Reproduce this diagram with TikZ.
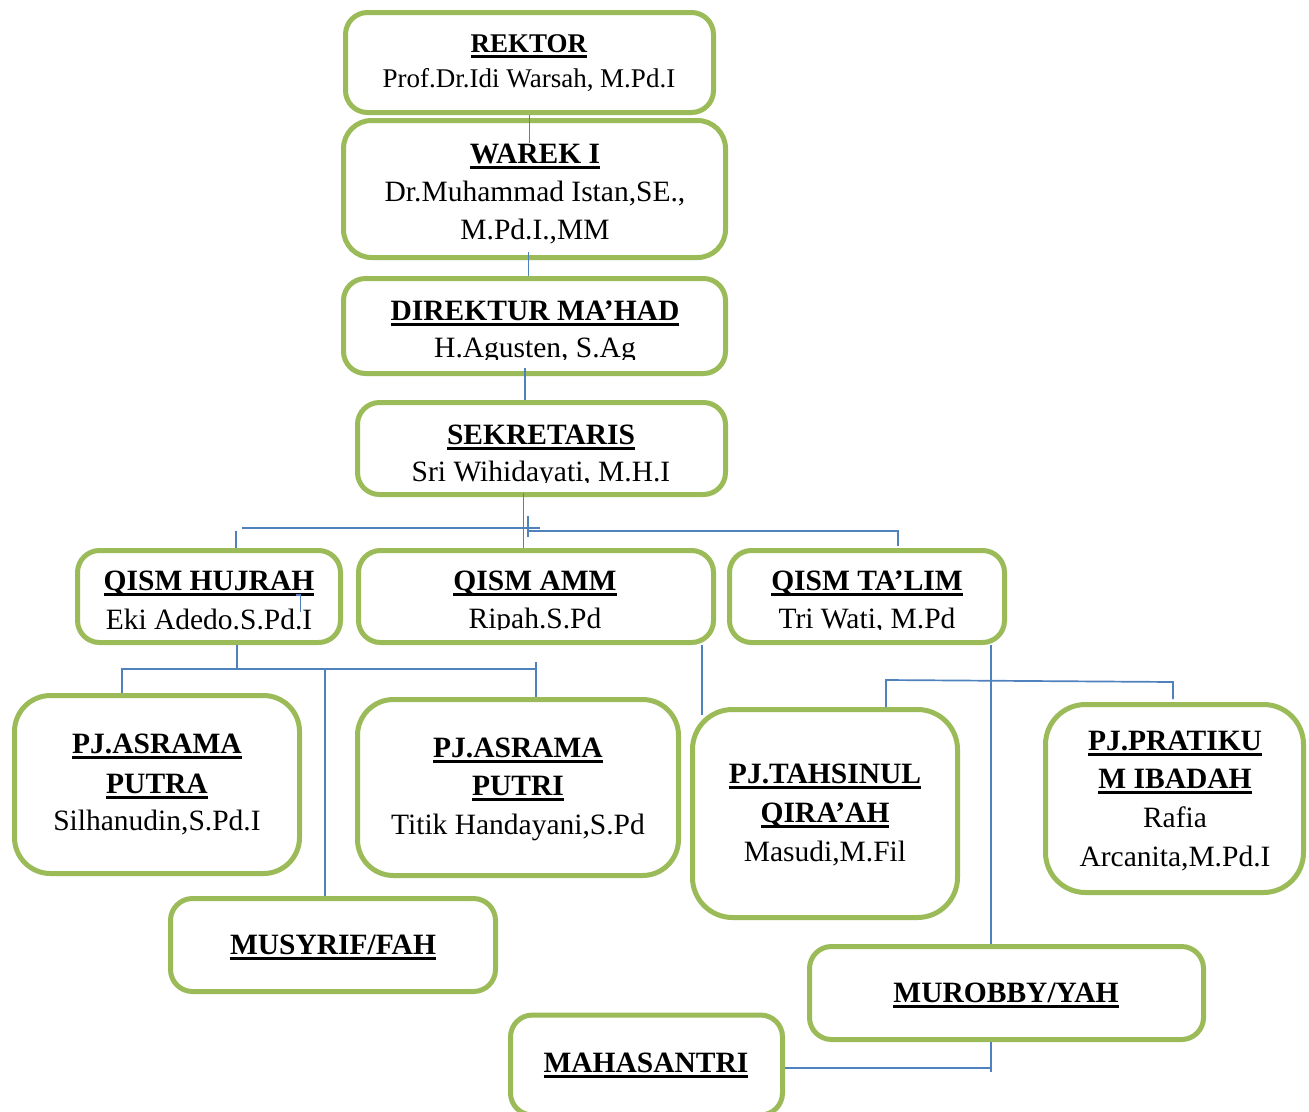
\documentclass[tikz,border=0pt]{standalone}
\usepackage{fontspec}
\setmainfont{Liberation Serif}
\usetikzlibrary{calc}
\definecolor{boxgreen}{HTML}{9BBB59}
\definecolor{linkblue}{HTML}{4F81BD}
\newcommand\myul[1]{\setbox0\hbox{#1}\rlap{\vrule height -3pt depth 6pt width \wd0}\box0}
\newcommand\ttl[1]{\myul{\textbf{#1}}}
\begin{document}
\begin{tikzpicture}[x=1pt,y=-1pt,
  orgbox/.style={draw=boxgreen,line width=5pt,fill=white,rounded corners=#1,inner sep=0pt},
  orgbox/.default=22pt,
  conn/.style={draw=linkblue,line width=1.7pt},
  txt/.style={anchor=base,inner sep=0pt,font=\fontsize{29.5}{38}\selectfont},
  smalltxt/.style={txt,font=\fontsize{27}{38}\selectfont}]
\useasboundingbox (0,0) rectangle (1309,1111);
\fill[white] (0,0) rectangle (1309,1111);

% boxes
\node[orgbox,minimum width=368pt,minimum height=100pt] (rektor) at (529.5,62.5) {};
\node[orgbox=28pt,minimum width=382pt,minimum height=137pt] (warek) at (534.5,189) {};
\node[orgbox,minimum width=382pt,minimum height=95pt] (direktur) at (534.5,326) {};
\node[orgbox,minimum width=368pt,minimum height=92pt] (sekretaris) at (541.5,448.5) {};
\node[orgbox,minimum width=263pt,minimum height=92pt] (hujrah) at (209,596.5) {};
\node[orgbox,minimum width=355pt,minimum height=92pt] (amm) at (536,596.5) {};
\node[orgbox,minimum width=275pt,minimum height=92pt] (talim) at (867,596.5) {};
\node[orgbox=36pt,minimum width=285pt,minimum height=178pt] (putra) at (157,784.5) {};
\node[orgbox=36pt,minimum width=321pt,minimum height=176pt] (putri) at (518,787.5) {};
\node[orgbox=40pt,minimum width=265pt,minimum height=208pt] (tahsin) at (825,813.5) {};
\node[orgbox=40pt,minimum width=258pt,minimum height=188pt] (pratik) at (1174.5,798.5) {};
\node[orgbox,minimum width=325pt,minimum height=93pt] (musyrif) at (333,945) {};
\node[orgbox,minimum width=394pt,minimum height=93pt] (murobby) at (1006.5,993) {};
\node[orgbox,minimum width=272pt,minimum height=100pt] (mahasantri) at (646.5,1065) {};

% texts
\node[smalltxt] (t1) at (529,52) {\ttl{REKTOR}};
\node[smalltxt] (t2) at (529,87) {Prof.Dr.Idi Warsah, M.Pd.I};
\node[txt] (t3) at (535,163) {\ttl{WAREK I}};
\node[txt] (t4) at (535,201) {Dr.Muhammad Istan,SE.,};
\node[txt] (t5) at (535,239) {M.Pd.I.,MM};
\node[txt] (t6) at (535,320) {\ttl{DIREKTUR MA’HAD}};
\begin{scope}
\clip (345,330) rectangle (725,359);
\node[txt] (t7) at (535,357) {H.Agusten, S.Ag};
\end{scope}
\node[txt] (t8) at (541,444) {\ttl{SEKRETARIS}};
\begin{scope}
\clip (360,455) rectangle (725,482);
\node[txt] (t9) at (541,481) {Sri Wihidayati, M.H.I};
\end{scope}
\node[txt] (t10) at (209,590) {\ttl{QISM HUJRAH}};
\node[txt] (t12) at (535,590) {\ttl{QISM AMM}};
\node[txt] (t14) at (867,590) {\ttl{QISM TA’LIM}};
\begin{scope}
\clip (80,600) rectangle (1000,629);
\node[txt] (t11) at (209,629) {Eki Adedo.S.Pd.I};
\node[txt] (t13) at (535,628) {Ripah.S.Pd};
\node[txt] (t15) at (867,628) {Tri Wati, M.Pd};
\end{scope}
\node[txt] (t16) at (157,753) {\ttl{PJ.ASRAMA}};
\node[txt] (t17) at (157,793) {\ttl{PUTRA}};
\node[txt] (t18) at (157,830) {Silhanudin,S.Pd.I};
\node[txt] (t19) at (518,757) {\ttl{PJ.ASRAMA}};
\node[txt] (t20) at (518,795) {\ttl{PUTRI}};
\node[txt] (t21) at (518,834) {Titik Handayani,S.Pd};
\node[txt] (t22) at (825,783) {\ttl{PJ.TAHSINUL}};
\node[txt] (t23) at (825,822) {\ttl{QIRA’AH}};
\node[txt] (t24) at (825,861) {Masudi,M.Fil};
\node[txt] (t25) at (1175,750) {\ttl{PJ.PRATIKU}};
\node[txt] (t26) at (1175,788) {\ttl{M IBADAH}};
\node[txt] (t27) at (1175,827) {Rafia};
\node[txt] (t28) at (1175,866) {Arcanita,M.Pd.I};
\node[txt] (t29) at (333,954) {\ttl{MUSYRIF/FAH}};
\node[txt] (t30) at (1006,1002) {\ttl{MUROBBY/YAH}};
\node[txt] (t31) at (646,1072) {\ttl{MAHASANTRI}};

% connectors
\draw[conn] (rektor.south) -- ++(0,28);
\draw[conn] ([xshift=-6pt,yshift=8pt]warek.south) -- ([xshift=-6pt]direktur.north);
\draw[conn] ([xshift=-9.5pt,yshift=8pt]direktur.south) -- ([xshift=-16.5pt]sekretaris.north);
\coordinate (hub) at (523.5,528);
\draw[conn] ([xshift=-18pt,yshift=4pt]sekretaris.south) -- (hub) -- (hub |- amm.north);
\draw[conn] (242,528) -- (540,528);
\draw[conn] (528,516) -- (528,537);
\draw[conn] (528,531) -| ([xshift=31pt,yshift=2pt]talim.north);
\draw[conn] ([xshift=27pt]hujrah.north) -- ++(0,-17);
\draw[conn] (296,595) -- (300.5,595) -- (300.5,612);
% hujrah children
\coordinate (hj) at (237,669);
\draw[conn] ([xshift=28pt]hujrah.south) -- (hj);
\draw[conn] ([xshift=-35pt]putra.north) |- (hj) -| ([xshift=18pt]putri.north);
\draw[conn] (536,662) -- (536,669);
\draw[conn] (hj -| 325,0) -- ([xshift=-8pt]musyrif.north);
% amm to tahsin
\draw[conn] ([xshift=166pt]amm.south) -- (702,715);
% talim children
\draw[conn] ([xshift=124pt]talim.south) -- ([xshift=-15.5pt]murobby.north);
\draw[conn] ([xshift=61pt]tahsin.north) -- (886,680) -- (1173,682) -- ([xshift=-1.5pt,yshift=3pt]pratik.north);
% murobby to mahasantri
\draw[conn] ([xshift=-15.5pt]murobby.south) -- (991,1072);
\draw[conn] (mahasantri.east |- 0,1068) -- (991,1068);
\end{tikzpicture}
\end{document}
